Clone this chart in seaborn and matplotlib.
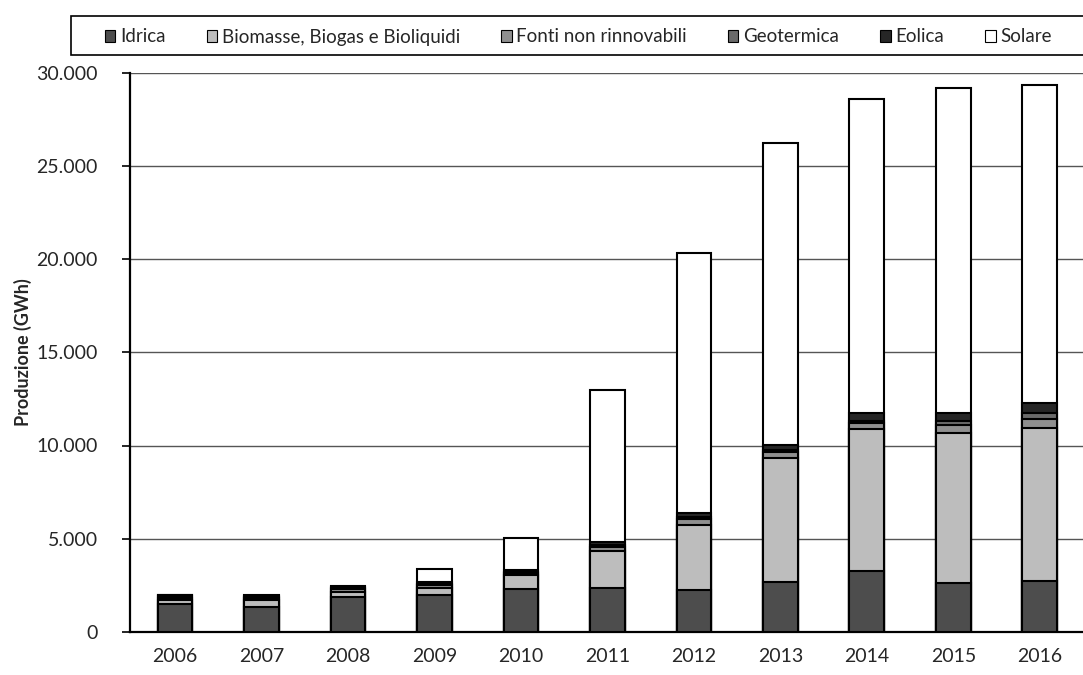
import numpy as np
import pandas as pd
import seaborn as sns
import matplotlib.pyplot as plt
from matplotlib.patches import Patch, Rectangle
from matplotlib.ticker import FuncFormatter

anni = ['2006', '2007', '2008', '2009', '2010', '2011', '2012', '2013', '2014', '2015', '2016']
idrica = [1470, 1350, 1850, 1990, 2290, 2330, 2240, 2650, 3240, 2620, 2700]
biomasse = [250, 350, 300, 360, 760, 2030, 3500, 6690, 7660, 8070, 8220]
fonti_non_rinn = [120, 120, 150, 150, 120, 200, 300, 300, 300, 400, 500]
geotermica = [60, 50, 50, 60, 60, 100, 120, 100, 140, 200, 300]
eolica = [60, 60, 80, 90, 90, 150, 200, 290, 410, 460, 580]
solare = [40, 50, 50, 710, 1730, 8190, 13990, 16220, 16850, 17420, 17060]

serie = ['Idrica', 'Biomasse, Biogas e Bioliquidi', 'Fonti non rinnovabili',
         'Geotermica', 'Eolica', 'Solare']
colori = ['#4d4d4d', '#bdbdbd', '#8f8f8f', '#6a6a6a', '#262626', '#ffffff']

sns.set_style('white')
plt.rcParams['font.family'] = ['Lato', 'DejaVu Sans']

df = pd.DataFrame({'anno': anni, 'Idrica': idrica, 'Biomasse, Biogas e Bioliquidi': biomasse,
                   'Fonti non rinnovabili': fonti_non_rinn, 'Geotermica': geotermica,
                   'Eolica': eolica, 'Solare': solare})
cum = df[serie].cumsum(axis=1)

fig = plt.figure(figsize=(10.83, 6.75), dpi=100)
ax = fig.add_axes([0.12, 0.064, 0.88, 0.828])

# barre sovrapposte: dalla cumulata piu' alta alla piu' bassa
for s, c in zip(reversed(serie), reversed(colori)):
    sns.barplot(x=df['anno'], y=cum[s], color=c, saturation=1, edgecolor='black',
                linewidth=1.5, width=0.4, ax=ax, zorder=3)

ax.set_ylim(0, 30000)
ax.set_xlim(-0.52, 10.44)
ax.set_yticks(range(0, 30001, 5000))
ax.yaxis.set_major_formatter(FuncFormatter(lambda v, p: f'{int(v):,}'.replace(',', '.')))
ax.yaxis.grid(True, color='#555555', lw=1)
ax.set_axisbelow(True)

for sp in ['top', 'right']:
    ax.spines[sp].set_visible(False)
for sp in ['left', 'bottom']:
    ax.spines[sp].set_color('black')
    ax.spines[sp].set_linewidth(1.6)

ax.set_xticks(np.arange(-0.5, 11, 1), minor=True)
ax.tick_params(axis='x', which='major', length=0, pad=12, labelsize=14)
ax.tick_params(axis='x', which='minor', length=6, width=1.2, direction='out', color='black')
ax.tick_params(axis='y', length=6, width=1.2, direction='out', color='black', pad=17, labelsize=14, left=True)

ax.set_xlabel('')
ax.set_ylabel('Produzione (GWh)', fontsize=13, fontweight='bold', labelpad=3)

# riquadro della legenda (esce dal bordo destro come nell'originale)
fig.patches.append(Rectangle((71 / 1083, 1 - 55 / 675), 1.0, 39 / 675, transform=fig.transFigure,
                             facecolor='white', edgecolor='black', lw=1.2, clip_on=False))
handles = [Patch(facecolor=c, edgecolor='black', lw=0.8) for c in colori]
fig.legend(handles, serie, loc='center left', bbox_to_anchor=(0.097, 1 - 37 / 675),
           ncol=6, frameon=False, fontsize=13.5, handlelength=0.55, handleheight=0.6,
           handletextpad=0.25, columnspacing=2.2, borderpad=0, borderaxespad=0)

fig.savefig('out.png', dpi=100)
